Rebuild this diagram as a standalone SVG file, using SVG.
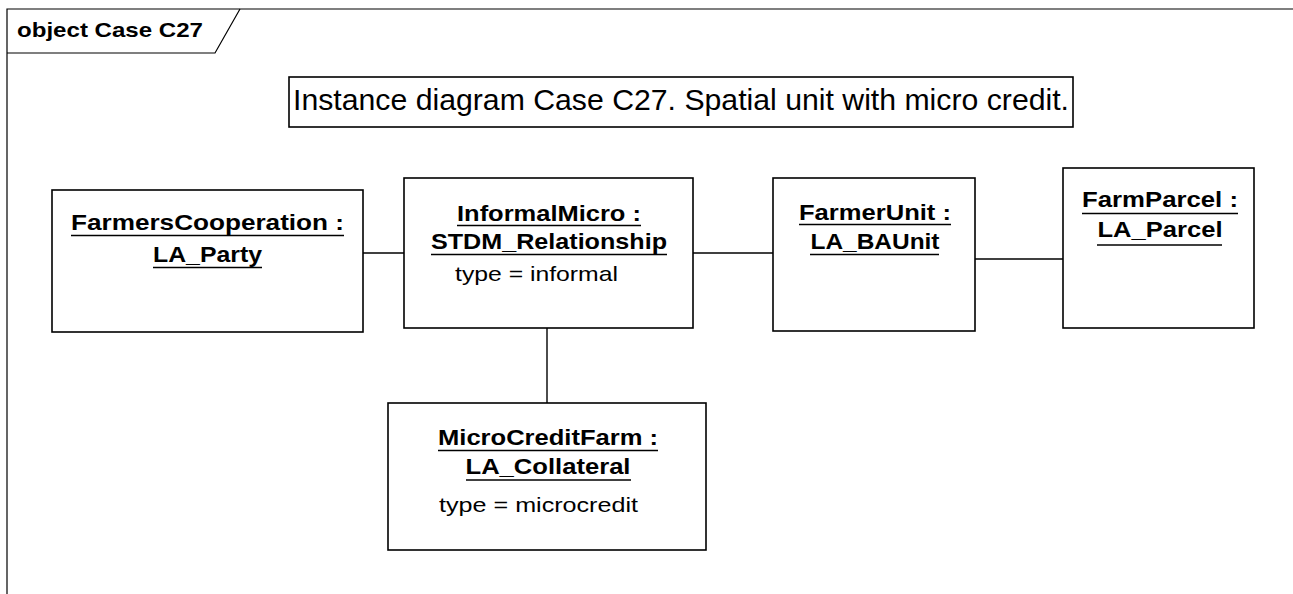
<svg xmlns="http://www.w3.org/2000/svg" width="1293" height="594" viewBox="0 0 1293 594">
<style>
.frame{fill:none;stroke:#000;stroke-width:1.2}
.box{fill:#fff;stroke:#000;stroke-width:1.6}
.conn{fill:none;stroke:#000;stroke-width:1.4}
.ul{stroke:#000;stroke-width:1.5}
.t{font-family:"Liberation Sans",Arial,sans-serif;fill:#000}
.nm{font-size:21.5px;font-weight:bold;text-anchor:middle}
.at{font-size:21px}
</style>
<rect width="1293" height="594" fill="#fff"/>
<g id="frame">
<path class="frame" d="M1293,9 H7 V594"/>
<path class="frame" d="M7,53 H215 L240,9"/>
<text class="t" x="17" y="37" font-size="21" font-weight="bold" textLength="186" lengthAdjust="spacingAndGlyphs">object Case C27</text>
</g>
<g id="note">
<rect class="box" x="289" y="77" width="784" height="50"/>
<text class="t" x="293" y="110" font-size="29" textLength="776" lengthAdjust="spacingAndGlyphs">Instance diagram Case C27. Spatial unit with micro credit.</text>
</g>
<g id="connectors">
<line class="conn" x1="363" y1="253" x2="404" y2="253"/>
<line class="conn" x1="693" y1="253" x2="773" y2="253"/>
<line class="conn" x1="975" y1="259" x2="1063" y2="259"/>
<line class="conn" x1="547" y1="328" x2="547" y2="403"/>
</g>
<g id="FarmersCooperation">
<rect class="box" x="52" y="190" width="311" height="142"/>
<text class="t nm" x="207.5" y="230" textLength="273" lengthAdjust="spacingAndGlyphs">FarmersCooperation :</text>
<line class="ul" x1="71" y1="235.5" x2="344" y2="235.5"/>
<text class="t nm" x="207.5" y="262" textLength="109" lengthAdjust="spacingAndGlyphs">LA_Party</text>
<line class="ul" x1="153" y1="267.5" x2="262" y2="267.5"/>
</g>
<g id="InformalMicro">
<rect class="box" x="404" y="178" width="289" height="150"/>
<text class="t nm" x="549" y="221" textLength="184" lengthAdjust="spacingAndGlyphs">InformalMicro :</text>
<line class="ul" x1="457" y1="225.5" x2="641" y2="225.5"/>
<text class="t nm" x="549" y="249" textLength="236" lengthAdjust="spacingAndGlyphs">STDM_Relationship</text>
<line class="ul" x1="431" y1="254.5" x2="667" y2="254.5"/>
<text class="t at" x="455" y="281" textLength="163" lengthAdjust="spacingAndGlyphs">type = informal</text>
</g>
<g id="FarmerUnit">
<rect class="box" x="773" y="178" width="202" height="153"/>
<text class="t nm" x="875" y="220" textLength="152" lengthAdjust="spacingAndGlyphs">FarmerUnit :</text>
<line class="ul" x1="799" y1="224.5" x2="951" y2="224.5"/>
<text class="t nm" x="875" y="249" textLength="129" lengthAdjust="spacingAndGlyphs">LA_BAUnit</text>
<line class="ul" x1="810" y1="254.5" x2="939" y2="254.5"/>
</g>
<g id="FarmParcel">
<rect class="box" x="1063" y="168" width="191" height="160"/>
<text class="t nm" x="1160" y="207" textLength="156" lengthAdjust="spacingAndGlyphs">FarmParcel :</text>
<line class="ul" x1="1082" y1="213.5" x2="1238" y2="213.5"/>
<text class="t nm" x="1160" y="237" textLength="125" lengthAdjust="spacingAndGlyphs">LA_Parcel</text>
<line class="ul" x1="1097" y1="245" x2="1222" y2="245"/>
</g>
<g id="MicroCreditFarm">
<rect class="box" x="388" y="403" width="318" height="147"/>
<text class="t nm" x="548" y="445" textLength="220" lengthAdjust="spacingAndGlyphs">MicroCreditFarm :</text>
<line class="ul" x1="438" y1="450.5" x2="658" y2="450.5"/>
<text class="t nm" x="548" y="474" textLength="165" lengthAdjust="spacingAndGlyphs">LA_Collateral</text>
<line class="ul" x1="466" y1="480" x2="631" y2="480"/>
<text class="t at" x="439" y="512" textLength="199" lengthAdjust="spacingAndGlyphs">type = microcredit</text>
</g>
</svg>
